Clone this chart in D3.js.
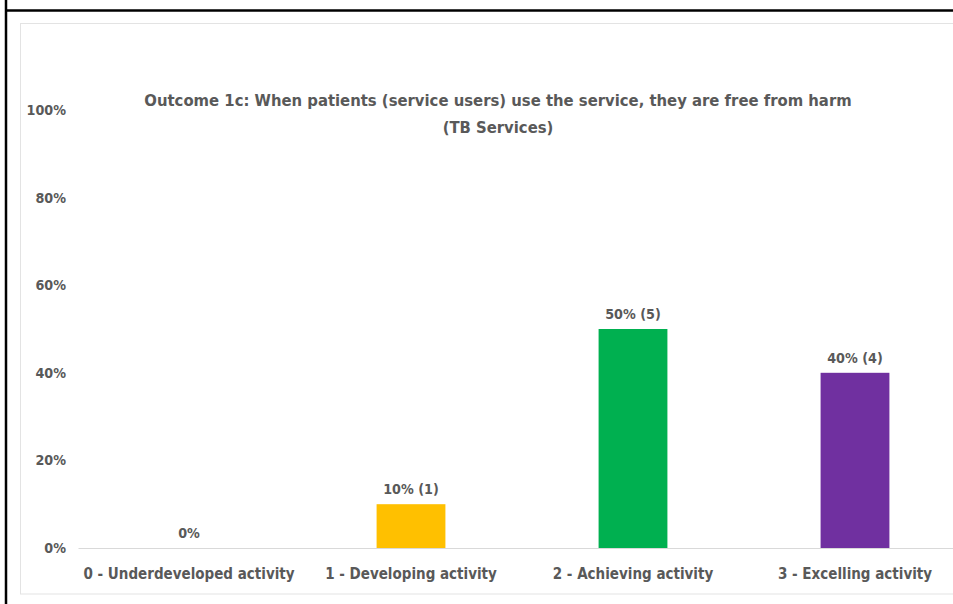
<!DOCTYPE html>
<html>
<head>
<meta charset="utf-8">
<script src="https://cdn.jsdelivr.net/npm/d3@7"></script>
<style>
  html, body { margin: 0; padding: 0; background: #ffffff; }
  svg { display: block; }
  text { font-family: "Liberation Sans Narrow", "Arial Narrow", "DejaVu Sans Condensed", sans-serif; font-weight: bold; fill: #595959; }
</style>
</head>
<body>
<svg id="chart" width="953" height="604"></svg>
<script>
// Rating categories along the x axis
const categories = [
  "0 - Underdeveloped activity",
  "1 - Developing activity",
  "2 - Achieving activity",
  "3 - Excelling activity"
];
// Share of services in each category (%)
const percents = [0, 10, 50, 40];
// Number of services in each category
const counts = [0, 1, 5, 4];
// Bar fill for each category
const colors = ["#A6A6A6", "#FFC000", "#00B050", "#7030A0"];
// Y axis ticks (%)
const yTicks = [0, 20, 40, 60, 80, 100];
const titleLines = [
  "Outcome 1c: When patients (service users) use the service, they are free from harm",
  "(TB Services)"
];

const svg = d3.select("#chart");
const W = 953, H = 604;

// Page frame lines
svg.append("line").attr("x1", 6).attr("x2", 6).attr("y1", 0).attr("y2", H)
  .attr("stroke", "#000").attr("stroke-width", 2.5);
svg.append("line").attr("x1", 6).attr("x2", W).attr("y1", 10.5).attr("y2", 10.5)
  .attr("stroke", "#000").attr("stroke-width", 2.5);

// Chart area outline
svg.append("rect").attr("x", 20.5).attr("y", 23.5).attr("width", 950).attr("height", 570.5)
  .attr("fill", "#fff").attr("stroke", "#e3e3e3").attr("stroke-width", 1);

const data = categories.map((c, i) => ({ cat: c, pct: percents[i], n: counts[i], color: colors[i] }));

const x = d3.scaleBand().domain(categories).range([78, 966]).paddingInner(0.69).paddingOuter(0.345);
const y = d3.scaleLinear().domain([0, 100]).range([548, 110]);

// Title
svg.append("g").selectAll("text").data(titleLines).join("text")
  .attr("x", 498).attr("y", (d, i) => 106 + i * 27)
  .attr("text-anchor", "middle").attr("font-size", 16.5).text(d => d);

// Y axis labels
const yAxis = d3.axisLeft(y).tickValues(yTicks).tickSize(0).tickPadding(0)
  .tickFormat(d => d + "%");
svg.append("g").attr("transform", "translate(66,0)").call(yAxis)
  .call(g => g.select(".domain").remove())
  .call(g => g.selectAll("text").attr("font-size", 14.2).attr("font-family", null).attr("fill", null));

// Bars
svg.append("g").selectAll("rect").data(data).join("rect")
  .attr("x", d => x(d.cat)).attr("width", x.bandwidth())
  .attr("y", d => y(d.pct)).attr("height", d => y(0) - y(d.pct))
  .attr("fill", d => d.color);

// X axis with baseline
const xAxis = d3.axisBottom(x).tickSize(0).tickPadding(20);
svg.append("g").attr("transform", `translate(0,${y(0)})`).call(xAxis)
  .call(g => g.select(".domain").attr("stroke", "#d9d9d9").attr("stroke-width", 1))
  .call(g => g.selectAll("text").attr("font-size", 15).attr("font-family", null).attr("fill", null));

// Value labels
svg.append("g").selectAll("text").data(data).join("text")
  .attr("x", d => x(d.cat) + x.bandwidth() / 2)
  .attr("y", d => y(d.pct) - 10)
  .attr("text-anchor", "middle").attr("font-size", 14.2)
  .text(d => d.pct === 0 ? d.pct + "%" : `${d.pct}% (${d.n})`);
</script>
</body>
</html>
